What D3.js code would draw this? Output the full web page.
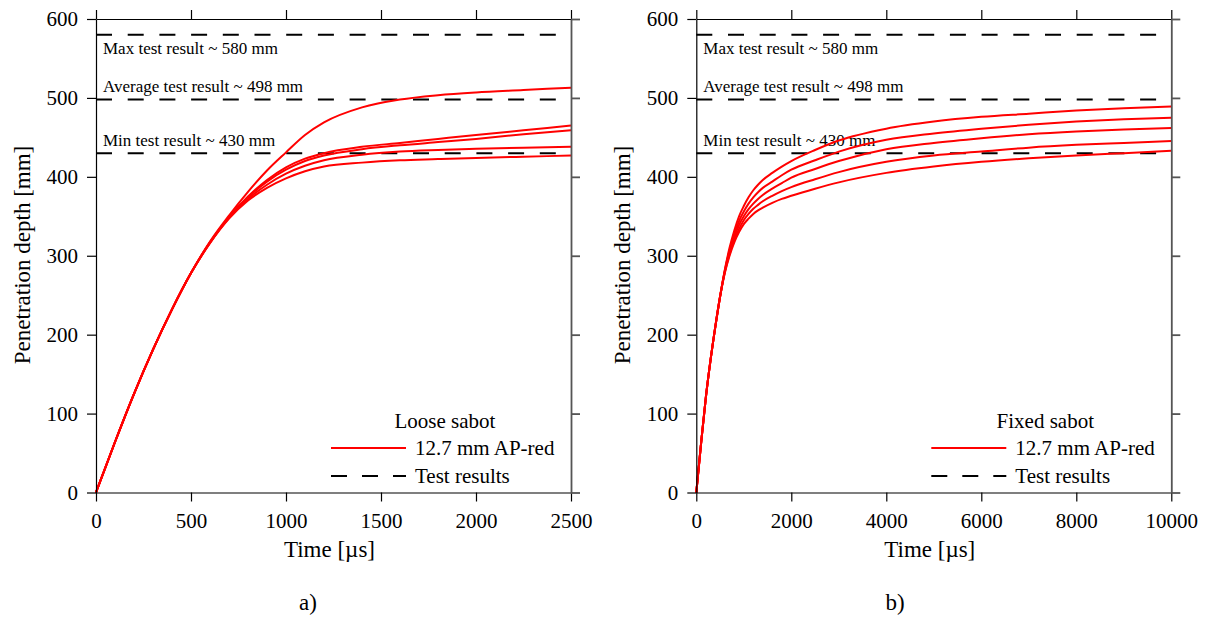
<!DOCTYPE html>
<html>
<head>
<meta charset="utf-8">
<script src="https://cdn.jsdelivr.net/npm/d3@7"></script>
<style>
  body { margin: 0; background: #fff; }
  svg text { font-family: "Liberation Serif", "Times New Roman", serif; fill: #000; }
</style>
</head>
<body>
<script>
// Data

// panel a) loose sabot, time in microseconds, depth in mm
const looseTime = [0, 100, 200, 300, 400, 500, 600, 700, 800, 900, 1000, 1100, 1200, 1400, 1600, 1800, 2000, 2250, 2500];
const looseRun1 = [0, 64, 125, 181, 232, 278, 318, 351, 381, 408, 431, 453, 469, 488, 498, 503.5, 507, 510, 513];
const looseRun2 = [0, 64, 125, 181, 232, 278, 317, 349, 375, 396, 412, 423, 430, 438, 443, 448, 453, 459, 465];
const looseRun3 = [0, 64, 125, 181, 232, 278, 317, 348.5, 374, 394, 409, 420, 427, 435, 440, 444, 448, 454, 459];
const looseRun4 = [0, 64, 125, 181, 232, 278, 316.5, 348, 372, 390, 404, 414, 421, 428, 432, 434, 435.5, 437, 438];
const looseRun5 = [0, 64, 125, 181, 232, 278, 316, 347, 370, 386, 398, 407, 413, 418, 421, 422.5, 424, 425.5, 427];

// panel b) fixed sabot
const fixedTime = [0, 100, 200, 300, 400, 500, 600, 700, 800, 900, 1000, 1100, 1200, 1300, 1400, 1600, 1800, 2000, 2500, 3000, 4000, 5000, 6000, 7000, 8000, 9000, 10000];
const fixedRun1 = [0, 62, 120, 168, 210, 248, 282, 310, 332, 350, 363, 374, 383, 390, 396, 405, 413, 420, 434, 446, 461, 470, 476, 480, 484, 487, 489];
const fixedRun2 = [0, 62, 120, 168, 210, 248, 281, 307, 327, 344, 356, 366, 374, 380.5, 386, 394, 402, 409, 421, 432, 447, 455, 461, 466, 470, 473, 475];
const fixedRun3 = [0, 62, 120, 168, 210, 248, 280, 305, 324, 339, 350, 359, 366, 372, 377, 385, 392, 399, 410, 420, 435, 443, 449, 454, 457.5, 460, 462];
const fixedRun4 = [0, 62, 120, 168, 210, 248, 279, 302, 320, 334, 345, 353, 359.5, 364.5, 369, 376, 382, 387, 397, 406, 419, 427, 432, 437, 440.5, 443, 445.5];
const fixedRun5 = [0, 62, 120, 168, 210, 248, 278, 300, 317, 330, 340, 347, 353, 357.5, 361, 367, 372, 376, 385, 393, 405, 413, 419, 423.5, 427, 430, 433];

// test results (mm)
const testValues = [580, 498, 430];
const testLabels = ["Max test result ~ 580 mm", "Average test result ~ 498 mm", "Min test result ~ 430 mm"];

const yTicks = [0, 100, 200, 300, 400, 500, 600];
const looseTicks = [0, 500, 1000, 1500, 2000, 2500];
const fixedTicks = [0, 2000, 4000, 6000, 8000, 10000];

const width = 1207, height = 619;

const svg = d3.select("body").append("svg")
  .attr("width", width)
  .attr("height", height);

function drawPanel(opt) {
  const left = opt.left, plotW = 475;
  const top = 19, bottom = 492.5;

  const x = d3.scaleLinear().domain([0, opt.xMax]).range([left, left + plotW]);
  const y = d3.scaleLinear().domain([0, 600]).range([bottom, top]);

  const g = svg.append("g");

  // test result dashed lines
  g.selectAll(".test")
    .data(testValues)
    .enter().append("line")
    .attr("x1", x(0))
    .attr("x2", x(opt.xMax))
    .attr("y1", d => y(d))
    .attr("y2", d => y(d))
    .attr("stroke", "#000")
    .attr("stroke-width", 2)
    .attr("stroke-dasharray", "16,15.7");

  // labels above the dashed lines
  const labelY = [54, 92, 145.5];
  g.selectAll(".testlabel")
    .data(testLabels)
    .enter().append("text")
    .attr("x", left + 7)
    .attr("y", (d, i) => labelY[i])
    .style("font-size", "17px")
    .text(d => d);

  // simulation curves
  const line = d3.line()
    .x(d => x(d[0]))
    .y(d => y(d[1]))
    .curve(d3.curveMonotoneX);

  opt.runs.forEach(function(run) {
    const pts = opt.time.map((t, i) => [t, run[i]]);
    g.append("path")
      .datum(pts)
      .attr("d", line)
      .attr("fill", "none")
      .attr("stroke", "#ff0000")
      .attr("stroke-width", 2);
  });

  // axes
  const bottomAxis = g.append("g")
    .attr("transform", "translate(0," + bottom + ")")
    .call(d3.axisBottom(x).tickValues(opt.ticks).tickFormat(d3.format("d"))
      .tickSize(9).tickSizeOuter(0).tickPadding(12));

  const leftAxis = g.append("g")
    .attr("transform", "translate(" + left + ",0)")
    .call(d3.axisLeft(y).tickValues(yTicks).tickSize(9).tickSizeOuter(0).tickPadding(9));

  const topAxis = g.append("g")
    .attr("transform", "translate(0," + top + ")")
    .call(d3.axisTop(x).tickValues(opt.ticks).tickFormat("").tickSize(9).tickSizeOuter(0));

  const rightAxis = g.append("g")
    .attr("transform", "translate(" + (left + plotW) + ",0)")
    .call(d3.axisRight(y).tickValues(yTicks).tickFormat("").tickSize(9).tickSizeOuter(0));

  [bottomAxis, leftAxis, topAxis].forEach(function(a) {
    a.selectAll("path, line").attr("stroke", "#000").attr("stroke-width", 1.2);
  });
  rightAxis.selectAll("path, line").attr("stroke", "#555").attr("stroke-width", 1.8);

  g.selectAll(".tick text")
    .style("font-family", "Liberation Serif")
    .style("font-size", "21px")
    .attr("fill", "#000");

  // axis titles
  g.append("text")
    .attr("x", left + plotW / 2 - 4)
    .attr("y", 557)
    .attr("text-anchor", "middle")
    .style("font-size", "23px")
    .text("Time [\u00b5s]");

  g.append("text")
    .attr("transform", "translate(" + (left - 66) + "," + 255 + ") rotate(-90)")
    .attr("text-anchor", "middle")
    .style("font-size", "23px")
    .text("Penetration depth [mm]");

  // legend
  g.append("text")
    .attr("x", left + 349)
    .attr("y", 428)
    .attr("text-anchor", "middle")
    .style("font-size", "21px")
    .text(opt.legendTitle);

  g.append("line")
    .attr("x1", left + 235).attr("x2", left + 310)
    .attr("y1", 448).attr("y2", 448)
    .attr("stroke", "#ff0000")
    .attr("stroke-width", 2);

  g.append("text")
    .attr("x", left + 319)
    .attr("y", 455)
    .style("font-size", "21px")
    .text("12.7 mm AP-red");

  g.append("line")
    .attr("x1", left + 235).attr("x2", left + 310)
    .attr("y1", 476).attr("y2", 476)
    .attr("stroke", "#000")
    .attr("stroke-width", 2)
    .attr("stroke-dasharray", "16,15");

  g.append("text")
    .attr("x", left + 319)
    .attr("y", 483)
    .style("font-size", "21px")
    .text("Test results");

  // panel label
  g.append("text")
    .attr("x", opt.tagX)
    .attr("y", 610)
    .attr("text-anchor", "middle")
    .style("font-size", "23px")
    .text(opt.tag);
}

drawPanel({
  left: 96,
  xMax: 2500,
  ticks: looseTicks,
  time: looseTime,
  runs: [looseRun1, looseRun2, looseRun3, looseRun4, looseRun5],
  legendTitle: "Loose sabot",
  tag: "a)",
  tagX: 308
});

drawPanel({
  left: 696.3,
  xMax: 10000,
  ticks: fixedTicks,
  time: fixedTime,
  runs: [fixedRun1, fixedRun2, fixedRun3, fixedRun4, fixedRun5],
  legendTitle: "Fixed sabot",
  tag: "b)",
  tagX: 895
});
</script>
</body>
</html>
